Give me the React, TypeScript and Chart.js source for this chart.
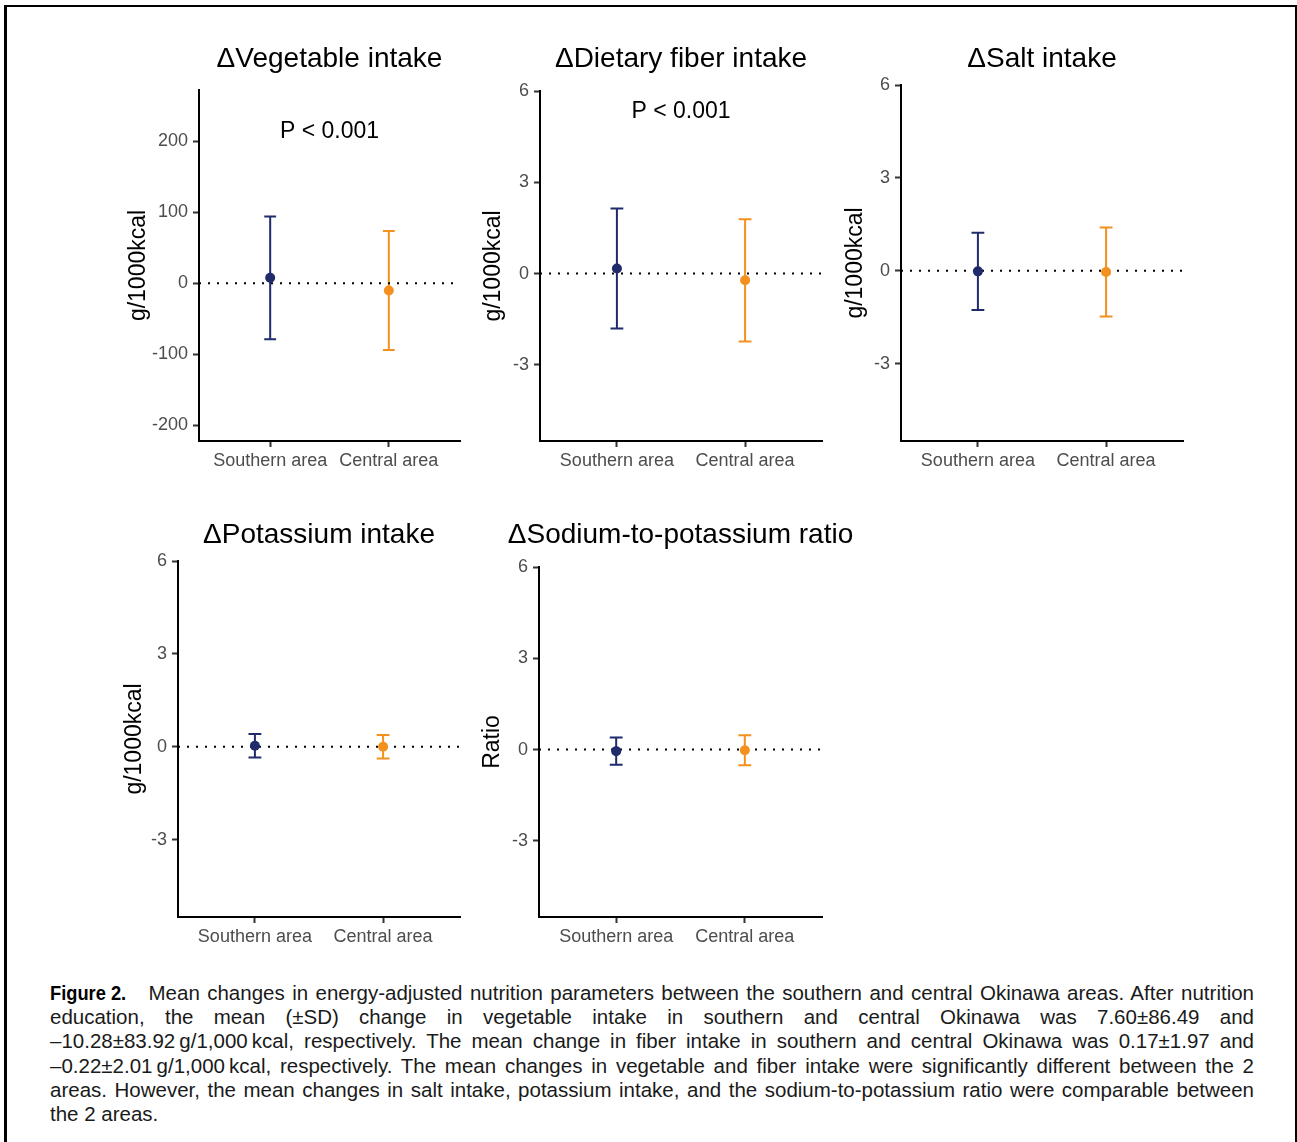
import React, { useEffect, useRef } from "react";
import { Chart, registerables } from "chart.js";

Chart.register(...registerables);

// ---------------- data ----------------
const groups = ["Southern area", "Central area"];
const groupPositions = [1, 2];
const groupColors = ["#1f2b6b", "#f4911e"];

const vegMean = [7.6, -10.28];
const vegSD = [86.49, 83.92];
const fiberMean = [0.17, -0.22];
const fiberSD = [1.97, 2.01];
const saltMean = [-0.02, -0.04];
const saltSD = [1.25, 1.44];
const potMean = [0.03, 0.0];
const potSD = [0.38, 0.38];
const ratioMean = [-0.05, -0.02];
const ratioSD = [0.45, 0.49];

const vegTicks = [-200, -100, 0, 100, 200];
const smallTicks = [-3, 0, 3, 6];

const captionLabel = "Figure 2.";
const captionLines = [
  "Mean changes in energy-adjusted nutrition parameters between the southern and central Okinawa areas. After nutrition",
  "education, the mean (\u00b1SD) change in vegetable intake in southern and central Okinawa was 7.60\u00b186.49 and",
  "\u201310.28\u00b183.92\u2009g/1,000\u2009kcal, respectively. The mean change in fiber intake in southern and central Okinawa was 0.17\u00b11.97 and",
  "\u20130.22\u00b12.01\u2009g/1,000\u2009kcal, respectively. The mean changes in vegetable and fiber intake were significantly different between the 2",
  "areas. However, the mean changes in salt intake, potassium intake, and the sodium-to-potassium ratio were comparable between",
  "the 2 areas.",
];

// ---------------- layout ----------------
const FONT = '"Liberation Sans", Arial, Helvetica, sans-serif';
const X_MIN = 0.4;
const X_MAX = 2.6;
const CAP_HALF = 0.05;

type Spec = {
  title: string;
  yTitle: string;
  mean: number[];
  sd: number[];
  ticks: number[];
  yMin: number;
  yMax: number;
  pText?: string;
  pY?: number;
  box: { x: number; y: number; w: number; h: number };
  panel: { l: number; t: number; r: number; b: number };
  yTitleX: number;
  titleBaseline: number;
};

const specs: Spec[] = [
  {
    title: "\u0394Vegetable intake",
    yTitle: "g/1000kcal",
    mean: vegMean,
    sd: vegSD,
    ticks: vegTicks,
    yMin: -222.5,
    yMax: 272.5,
    pText: "P < 0.001",
    pY: 204.5,
    box: { x: 95, y: 20, w: 380, h: 465 },
    panel: { l: 199, t: 90, r: 460, b: 441 },
    yTitleX: 138.8,
    titleBaseline: 67,
  },
  {
    title: "\u0394Dietary fiber intake",
    yTitle: "g/1000kcal",
    mean: fiberMean,
    sd: fiberSD,
    ticks: smallTicks,
    yMin: -5.5,
    yMax: 6,
    pText: "P < 0.001",
    pY: 5.1,
    box: { x: 470, y: 20, w: 370, h: 465 },
    panel: { l: 540, t: 91, r: 822, b: 441 },
    yTitleX: 494,
    titleBaseline: 67,
  },
  {
    title: "\u0394Salt intake",
    yTitle: "g/1000kcal",
    mean: saltMean,
    sd: saltSD,
    ticks: smallTicks,
    yMin: -5.5,
    yMax: 6,
    box: { x: 835, y: 20, w: 370, h: 465 },
    panel: { l: 901, t: 85, r: 1183, b: 441 },
    yTitleX: 856,
    titleBaseline: 67,
  },
  {
    title: "\u0394Potassium intake",
    yTitle: "g/1000kcal",
    mean: potMean,
    sd: potSD,
    ticks: smallTicks,
    yMin: -5.5,
    yMax: 6,
    box: { x: 95, y: 495, w: 380, h: 465 },
    panel: { l: 178, t: 561, r: 460, b: 917 },
    yTitleX: 135,
    titleBaseline: 543,
  },
  {
    title: "\u0394Sodium-to-potassium ratio",
    yTitle: "Ratio",
    mean: ratioMean,
    sd: ratioSD,
    ticks: smallTicks,
    yMin: -5.5,
    yMax: 6,
    box: { x: 470, y: 495, w: 400, h: 465 },
    panel: { l: 539, t: 567, r: 822, b: 917 },
    yTitleX: 493,
    titleBaseline: 543,
  },
];

function makeDecor(spec: Spec) {
  return {
    id: "decor",
    beforeDatasetsDraw(chart: any) {
      const { ctx, scales } = chart;
      const x = scales.x;
      const y = scales.y;
      ctx.save();
      ctx.lineWidth = 2;
      spec.mean.forEach((m: number, i: number) => {
        const gx = groupPositions[i];
        const px = x.getPixelForValue(gx);
        const lo = y.getPixelForValue(m - spec.sd[i]);
        const hi = y.getPixelForValue(m + spec.sd[i]);
        const cl = x.getPixelForValue(gx - CAP_HALF);
        const cr = x.getPixelForValue(gx + CAP_HALF);
        ctx.strokeStyle = groupColors[i];
        ctx.beginPath();
        ctx.moveTo(px, lo);
        ctx.lineTo(px, hi);
        ctx.moveTo(cl, lo);
        ctx.lineTo(cr, lo);
        ctx.moveTo(cl, hi);
        ctx.lineTo(cr, hi);
        ctx.stroke();
      });
      ctx.restore();
    },
    afterDraw(chart: any) {
      const { ctx, chartArea, scales } = chart;
      ctx.save();
      ctx.fillStyle = "#000";
      ctx.textAlign = "center";
      ctx.textBaseline = "alphabetic";
      ctx.font = `28px ${FONT}`;
      ctx.fillText(
        spec.title,
        (chartArea.left + chartArea.right) / 2,
        spec.titleBaseline - spec.box.y
      );
      if (spec.pText && spec.pY !== undefined) {
        ctx.font = `23px ${FONT}`;
        ctx.fillText(
          spec.pText,
          scales.x.getPixelForValue((X_MIN + X_MAX) / 2),
          scales.y.getPixelForValue(spec.pY)
        );
      }
      ctx.restore();
    },
  };
}

function buildConfig(spec: Spec): any {
  const padTop = spec.panel.t - spec.box.y;
  const padRight = spec.box.x + spec.box.w - spec.panel.r;
  const yW = spec.panel.l - spec.box.x;
  const xH = spec.box.y + spec.box.h - spec.panel.b;
  const yTitleSize = 23;
  const yTitlePad = spec.yTitleX - spec.box.x - (yTitleSize * 1.2) / 2;
  const axisGrid = {
    drawOnChartArea: false,
    drawTicks: true,
    tickLength: 6,
    tickColor: "#333333",
    tickWidth: 2,
  };
  const axisBorder = { display: true, color: "#000000", width: 2 };
  return {
    type: "scatter",
    data: {
      datasets: [
        {
          type: "line",
          label: "zero",
          data: [
            { x: X_MIN, y: 0 },
            { x: X_MAX, y: 0 },
          ],
          borderColor: "#000000",
          borderWidth: 2,
          borderDash: [2, 7],
          pointRadius: 0,
          fill: false,
          order: 5,
        },
        ...groups.map((g, i) => ({
          label: g,
          data: [{ x: groupPositions[i], y: spec.mean[i] }],
          pointRadius: 5,
          pointHoverRadius: 5,
          pointBorderWidth: 0,
          pointBackgroundColor: groupColors[i],
          backgroundColor: groupColors[i],
          borderColor: groupColors[i],
          order: 1,
        })),
      ],
    },
    options: {
      responsive: false,
      maintainAspectRatio: false,
      animation: false,
      events: [],
      layout: { padding: { top: padTop, right: padRight, bottom: 0, left: 0 } },
      plugins: {
        legend: { display: false },
        tooltip: { enabled: false },
        title: { display: false },
      },
      scales: {
        x: {
          type: "linear",
          min: X_MIN,
          max: X_MAX,
          afterBuildTicks: (s: any) => {
            s.ticks = groupPositions.map((v) => ({ value: v }));
          },
          afterFit: (s: any) => {
            s.height = xH;
          },
          ticks: {
            autoSkip: false,
            maxRotation: 0,
            minRotation: 0,
            padding: 3,
            color: "#4d4d4d",
            font: { family: FONT, size: 18 },
            callback: (v: number) => {
              const idx = groupPositions.indexOf(v);
              return idx >= 0 ? groups[idx] : "";
            },
          },
          grid: axisGrid,
          border: axisBorder,
        },
        y: {
          type: "linear",
          min: spec.yMin,
          max: spec.yMax,
          afterBuildTicks: (s: any) => {
            s.ticks = spec.ticks.map((v) => ({ value: v }));
          },
          afterFit: (s: any) => {
            s.width = yW;
          },
          ticks: {
            padding: 5,
            color: "#4d4d4d",
            font: { family: FONT, size: 18 },
            callback: (v: number) => String(v),
          },
          grid: axisGrid,
          border: axisBorder,
          title: {
            display: true,
            text: spec.yTitle,
            color: "#000000",
            font: { family: FONT, size: yTitleSize },
            padding: { top: yTitlePad, bottom: 0 },
          },
        },
      },
    },
    plugins: [makeDecor(spec)],
  };
}

function ChartPanel({ spec }: { spec: Spec }) {
  const ref = useRef<HTMLCanvasElement | null>(null);
  useEffect(() => {
    const canvas = ref.current;
    if (!canvas) return;
    const chart = new Chart(canvas, buildConfig(spec));
    return () => chart.destroy();
  }, [spec]);
  return (
    <canvas
      ref={ref}
      width={spec.box.w}
      height={spec.box.h}
      style={{
        position: "absolute",
        left: spec.box.x,
        top: spec.box.y,
        width: spec.box.w,
        height: spec.box.h,
      }}
    />
  );
}

export default function App() {
  return (
    <div
      style={{
        position: "absolute",
        left: 0,
        top: 0,
        width: 1297,
        height: 1142,
        background: "#ffffff",
        overflow: "hidden",
      }}
    >
      <div
        style={{
          position: "absolute",
          left: 4,
          top: 5,
          width: 1293,
          height: 1140,
          boxSizing: "border-box",
          borderTop: "2px solid #000",
          borderLeft: "3px solid #000",
          borderRight: "2px solid #000",
        }}
      />
      {specs.map((s, i) => (
        <ChartPanel key={i} spec={s} />
      ))}
      <div
        style={{
          position: "absolute",
          left: 50,
          top: 981,
          width: 1204,
          fontFamily: FONT,
          fontSize: 20.5,
          lineHeight: "24.2px",
          color: "#1a1a1a",
        }}
      >
        {captionLines.map((line, i) => (
          <div
            key={i}
            style={{
              textAlign: "justify",
              textAlignLast: i === captionLines.length - 1 ? "left" : "justify",
              whiteSpace: "nowrap",
            }}
          >
            {i === 0 ? (
              <b
                style={{
                  display: "inline-block",
                  fontFamily: FONT,
                  fontSize: 21,
                  fontWeight: 900,
                  color: "#000",
                  transform: "scaleX(0.87)",
                  transformOrigin: "left center",
                  marginRight: 11,
                }}
              >
                {captionLabel}
              </b>
            ) : null}
            {line}
          </div>
        ))}
      </div>
    </div>
  );
}
